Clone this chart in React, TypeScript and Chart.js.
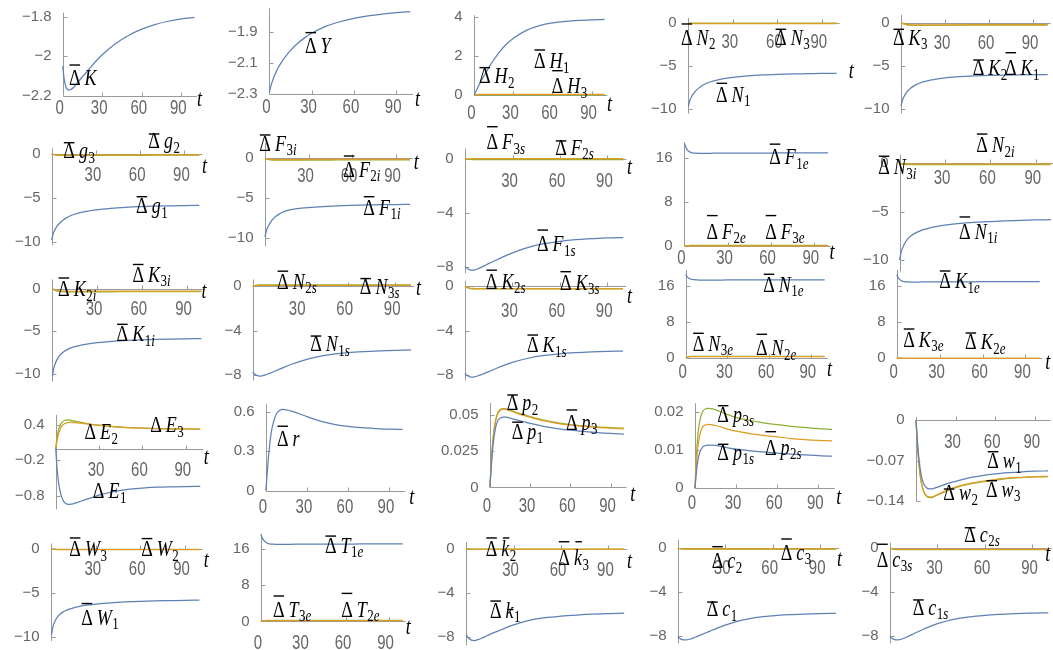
import React, { useEffect, useRef } from "react";
import { Chart, registerables } from "chart.js";

Chart.register(...registerables);

// ---------------- colours & fonts ----------------
const BLUE = "#5E81B5";
const ORANGE = "#E19C24";
const GREEN = "#8FB032";
const AXIS = "#9a9a9a";
const TICK_TXT = "#666666";
const TICK_FONT = '15px "Liberation Sans", Arial, sans-serif';
const LBL_FONT = '18px "Liberation Serif", "Times New Roman", serif';
const LBL_FONT_IT = 'italic 18px "Liberation Serif", "Times New Roman", serif';
const SUB_FONT = '13px "Liberation Serif", "Times New Roman", serif';
const SUB_FONT_IT = 'italic 13px "Liberation Serif", "Times New Roman", serif';
const LBL_VS = 1.25;
const XLBL_VS = 1.3;

// ---------------- data ----------------
const T = [0, 1, 2, 3, 4, 5, 6, 8, 10, 12, 15, 20, 25, 30, 40, 50, 60, 70, 80, 90, 100];
const X_TICKS = [0, 30, 60, 90];

// row 1
const K_BAR = [-2.05, -2.11, -2.145, -2.163, -2.17, -2.172, -2.17, -2.16, -2.145, -2.128, -2.104, -2.065, -2.027, -1.993, -1.937, -1.895, -1.863, -1.84, -1.823, -1.811, -1.803];
const Y_BAR = [-2.285, -2.25, -2.22, -2.195, -2.172, -2.152, -2.134, -2.102, -2.074, -2.05, -2.017, -1.972, -1.936, -1.906, -1.862, -1.832, -1.81, -1.794, -1.782, -1.773, -1.766];
const H1 = [0, 0.15, 0.29, 0.43, 0.56, 0.69, 0.81, 1.05, 1.27, 1.5, 1.8, 2.25, 2.62, 2.9, 3.3, 3.54, 3.68, 3.76, 3.81, 3.84, 3.86];
const H2 = [0, 0.01, 0.02, 0.025, 0.03, 0.03, 0.03, 0.03, 0.03, 0.03, 0.03, 0.03, 0.03, 0.03, 0.03, 0.03, 0.03, 0.03, 0.03, 0.03, 0.03];
const H3 = [0, 0, 0.01, 0.01, 0.01, 0.01, 0.01, 0.01, 0.01, 0.01, 0.01, 0.01, 0.01, 0.01, 0.01, 0.01, 0.01, 0.01, 0.01, 0.01, 0.01];
const N1 = [-9.7, -9.0, -8.6, -8.3, -8.05, -7.85, -7.68, -7.4, -7.18, -7.0, -6.8, -6.57, -6.41, -6.29, -6.12, -6.01, -5.94, -5.89, -5.86, -5.83, -5.81];
const N2 = [0, -0.02, -0.03, -0.04, -0.04, -0.05, -0.05, -0.05, -0.05, -0.05, -0.05, -0.05, -0.05, -0.05, -0.05, -0.05, -0.05, -0.05, -0.05, -0.05, -0.05];
const N3 = [0, 0.01, 0.02, 0.02, 0.02, 0.02, 0.02, 0.02, 0.02, 0.02, 0.02, 0.02, 0.02, 0.02, 0.02, 0.02, 0.02, 0.02, 0.02, 0.02, 0.02];
const K1 = [-9.6, -8.95, -8.55, -8.25, -8.0, -7.8, -7.64, -7.38, -7.18, -7.02, -6.83, -6.62, -6.48, -6.38, -6.24, -6.15, -6.09, -6.05, -6.02, -6.0, -5.99];
const K2 = [0, -0.06, -0.12, -0.16, -0.19, -0.21, -0.23, -0.25, -0.26, -0.26, -0.26, -0.25, -0.25, -0.24, -0.24, -0.23, -0.23, -0.22, -0.22, -0.22, -0.22];
const K3 = [0, -0.08, -0.15, -0.2, -0.24, -0.27, -0.29, -0.31, -0.32, -0.32, -0.32, -0.31, -0.3, -0.3, -0.29, -0.28, -0.28, -0.27, -0.27, -0.27, -0.27];

// row 2
const G1 = [-9.8, -9.1, -8.7, -8.4, -8.15, -7.95, -7.78, -7.5, -7.28, -7.1, -6.9, -6.66, -6.5, -6.37, -6.2, -6.08, -6.0, -5.95, -5.91, -5.88, -5.86];
const G2 = [0, -0.04, -0.07, -0.09, -0.1, -0.11, -0.12, -0.12, -0.12, -0.12, -0.12, -0.12, -0.11, -0.11, -0.11, -0.1, -0.1, -0.1, -0.1, -0.1, -0.1];
const G3 = [0, -0.05, -0.09, -0.12, -0.14, -0.15, -0.16, -0.17, -0.17, -0.17, -0.17, -0.16, -0.16, -0.16, -0.15, -0.15, -0.15, -0.14, -0.14, -0.14, -0.14];
const F1I = [-9.9, -9.1, -8.65, -8.3, -8.0, -7.76, -7.56, -7.25, -7.0, -6.8, -6.6, -6.4, -6.28, -6.2, -6.08, -5.99, -5.93, -5.88, -5.85, -5.82, -5.8];
const F2I = [0, -0.05, -0.09, -0.12, -0.14, -0.15, -0.16, -0.17, -0.17, -0.17, -0.17, -0.16, -0.16, -0.15, -0.15, -0.15, -0.14, -0.14, -0.14, -0.14, -0.14];
const F3I = [0, -0.07, -0.13, -0.17, -0.2, -0.22, -0.23, -0.24, -0.24, -0.24, -0.24, -0.23, -0.23, -0.22, -0.22, -0.21, -0.21, -0.21, -0.2, -0.2, -0.2];
const F1S = [-8.0, -8.12, -8.2, -8.25, -8.27, -8.27, -8.25, -8.17, -8.07, -7.95, -7.77, -7.5, -7.23, -6.98, -6.57, -6.3, -6.12, -6.0, -5.93, -5.87, -5.84];
const F2S = [0, 0.01, 0.02, 0.02, 0.03, 0.03, 0.03, 0.03, 0.03, 0.03, 0.03, 0.03, 0.03, 0.03, 0.03, 0.03, 0.03, 0.03, 0.03, 0.03, 0.03];
const F3S = [0, -0.01, -0.02, -0.02, -0.03, -0.03, -0.03, -0.03, -0.03, -0.03, -0.03, -0.03, -0.03, -0.03, -0.03, -0.03, -0.03, -0.03, -0.03, -0.03, -0.03];
const F1E = [18.7, 18.0, 17.55, 17.3, 17.12, 17.02, 16.96, 16.92, 16.9, 16.9, 16.9, 16.92, 16.93, 16.94, 16.95, 16.96, 16.96, 16.97, 16.97, 16.97, 16.97];
const F2E = [0, 0.05, 0.08, 0.1, 0.1, 0.1, 0.1, 0.1, 0.1, 0.1, 0.1, 0.1, 0.1, 0.1, 0.1, 0.1, 0.1, 0.1, 0.1, 0.1, 0.1];
const F3E = [0, 0.08, 0.12, 0.14, 0.15, 0.15, 0.15, 0.15, 0.15, 0.15, 0.15, 0.15, 0.15, 0.15, 0.15, 0.15, 0.15, 0.15, 0.15, 0.15, 0.15];
const N1I = [-10.0, -9.2, -8.75, -8.4, -8.12, -7.9, -7.72, -7.45, -7.25, -7.1, -6.9, -6.68, -6.52, -6.4, -6.22, -6.11, -6.03, -5.96, -5.91, -5.87, -5.84];
const N2I = [0, -0.04, -0.07, -0.09, -0.1, -0.11, -0.11, -0.11, -0.11, -0.11, -0.11, -0.11, -0.11, -0.11, -0.11, -0.11, -0.11, -0.11, -0.11, -0.11, -0.11];
const N3I = [0, -0.06, -0.1, -0.13, -0.15, -0.16, -0.16, -0.16, -0.16, -0.16, -0.16, -0.16, -0.16, -0.16, -0.16, -0.16, -0.16, -0.16, -0.16, -0.16, -0.16];

// row 3
const K1I = [-10.3, -9.3, -8.75, -8.35, -8.05, -7.82, -7.63, -7.35, -7.15, -6.98, -6.8, -6.58, -6.43, -6.32, -6.17, -6.07, -6.0, -5.95, -5.91, -5.88, -5.85];
const K2I = [0, -0.08, -0.14, -0.19, -0.22, -0.25, -0.27, -0.28, -0.29, -0.29, -0.29, -0.29, -0.28, -0.28, -0.28, -0.27, -0.27, -0.27, -0.27, -0.27, -0.27];
const K3I = [0, -0.1, -0.18, -0.24, -0.28, -0.31, -0.33, -0.35, -0.36, -0.36, -0.36, -0.36, -0.35, -0.35, -0.35, -0.34, -0.34, -0.34, -0.34, -0.34, -0.34];
const N1S = [-7.75, -7.9, -8.0, -8.07, -8.1, -8.1, -8.08, -8.0, -7.9, -7.78, -7.6, -7.3, -7.02, -6.78, -6.4, -6.15, -6.0, -5.9, -5.83, -5.78, -5.75];
const N2S = [0, 0.03, 0.05, 0.06, 0.07, 0.07, 0.07, 0.07, 0.07, 0.07, 0.07, 0.07, 0.07, 0.07, 0.07, 0.07, 0.07, 0.07, 0.07, 0.07, 0.07];
const N3S = [0, 0.04, 0.07, 0.09, 0.1, 0.1, 0.1, 0.1, 0.1, 0.1, 0.1, 0.1, 0.1, 0.1, 0.1, 0.1, 0.1, 0.1, 0.1, 0.1, 0.1];
const K1S = [-7.85, -8.0, -8.1, -8.17, -8.2, -8.2, -8.18, -8.1, -8.0, -7.88, -7.7, -7.4, -7.12, -6.88, -6.5, -6.25, -6.1, -6.0, -5.93, -5.88, -5.85];
const K2S = [0, -0.08, -0.14, -0.18, -0.2, -0.21, -0.22, -0.22, -0.22, -0.22, -0.22, -0.22, -0.22, -0.22, -0.22, -0.22, -0.22, -0.22, -0.22, -0.22, -0.22];
const K3S = [0, -0.1, -0.17, -0.21, -0.24, -0.25, -0.26, -0.26, -0.26, -0.26, -0.26, -0.26, -0.26, -0.26, -0.26, -0.26, -0.26, -0.26, -0.26, -0.26, -0.26];
const N1E = [18.5, 18.0, 17.7, 17.55, 17.45, 17.38, 17.33, 17.28, 17.25, 17.24, 17.24, 17.25, 17.26, 17.27, 17.28, 17.29, 17.3, 17.3, 17.3, 17.3, 17.3];
const N2E = [0, 0.12, 0.18, 0.22, 0.24, 0.25, 0.25, 0.25, 0.25, 0.25, 0.25, 0.25, 0.25, 0.25, 0.25, 0.25, 0.25, 0.25, 0.25, 0.25, 0.25];
const N3E = [0, 0.15, 0.22, 0.26, 0.28, 0.3, 0.3, 0.3, 0.3, 0.3, 0.3, 0.3, 0.3, 0.3, 0.3, 0.3, 0.3, 0.3, 0.3, 0.3, 0.3];
const K1E = [18.4, 17.8, 17.4, 17.15, 17.0, 16.92, 16.87, 16.83, 16.82, 16.82, 16.82, 16.83, 16.84, 16.85, 16.86, 16.87, 16.88, 16.88, 16.89, 16.89, 16.9];
const K2E = [0, -0.06, -0.1, -0.12, -0.13, -0.14, -0.14, -0.14, -0.14, -0.14, -0.14, -0.14, -0.14, -0.14, -0.14, -0.14, -0.14, -0.14, -0.14, -0.14, -0.14];
const K3E = [0, -0.08, -0.12, -0.15, -0.16, -0.17, -0.17, -0.17, -0.17, -0.17, -0.17, -0.17, -0.17, -0.17, -0.17, -0.17, -0.17, -0.17, -0.17, -0.17, -0.17];

// row 4
const E1 = [0, -0.35, -0.58, -0.72, -0.81, -0.87, -0.91, -0.94, -0.945, -0.935, -0.91, -0.87, -0.83, -0.79, -0.73, -0.69, -0.67, -0.655, -0.648, -0.643, -0.64];
const E2 = [0, 0.14, 0.25, 0.32, 0.37, 0.4, 0.42, 0.44, 0.445, 0.44, 0.435, 0.42, 0.405, 0.39, 0.37, 0.355, 0.345, 0.338, 0.334, 0.331, 0.33];
const E3 = [0, 0.2, 0.32, 0.39, 0.43, 0.46, 0.475, 0.485, 0.48, 0.47, 0.455, 0.43, 0.41, 0.395, 0.37, 0.355, 0.345, 0.338, 0.334, 0.331, 0.33];
const R_BAR = [0, 0.14, 0.27, 0.37, 0.45, 0.5, 0.54, 0.59, 0.612, 0.62, 0.617, 0.603, 0.585, 0.565, 0.53, 0.505, 0.49, 0.48, 0.474, 0.47, 0.467];
const P1 = [0, 0.014, 0.026, 0.034, 0.04, 0.0437, 0.046, 0.0478, 0.0484, 0.0483, 0.0477, 0.0464, 0.0452, 0.0441, 0.042, 0.0405, 0.0394, 0.0385, 0.0377, 0.0371, 0.0367];
const P2 = [0, 0.016, 0.029, 0.038, 0.0443, 0.0483, 0.051, 0.0533, 0.0538, 0.0536, 0.0528, 0.0511, 0.0496, 0.0483, 0.0459, 0.0441, 0.0428, 0.0419, 0.0412, 0.0407, 0.0403];
const P3 = [0, 0.017, 0.03, 0.039, 0.045, 0.049, 0.0515, 0.0537, 0.0542, 0.054, 0.0532, 0.0515, 0.05, 0.0487, 0.0463, 0.0445, 0.0432, 0.0423, 0.0416, 0.0411, 0.0407];
const P1S = [0, 0.0042, 0.0071, 0.0088, 0.0099, 0.0105, 0.0109, 0.0112, 0.0113, 0.0113, 0.0112, 0.0109, 0.0105, 0.0102, 0.0098, 0.0095, 0.0092, 0.0089, 0.0087, 0.0085, 0.0084];
const P2S = [0, 0.0062, 0.0105, 0.013, 0.0146, 0.0156, 0.0162, 0.0166, 0.0167, 0.0166, 0.0164, 0.0159, 0.0153, 0.0149, 0.0143, 0.0138, 0.0134, 0.013, 0.0127, 0.0125, 0.0124];
const P3S = [0, 0.008, 0.0135, 0.0165, 0.0184, 0.0196, 0.0203, 0.0208, 0.0209, 0.0208, 0.0205, 0.0198, 0.0191, 0.0185, 0.0177, 0.0171, 0.0166, 0.0162, 0.0159, 0.0156, 0.0154];
const W1S = [0, -0.035, -0.062, -0.082, -0.096, -0.105, -0.111, -0.117, -0.119, -0.119, -0.117, -0.113, -0.109, -0.106, -0.1, -0.096, -0.093, -0.091, -0.0895, -0.0885, -0.088];
const W2S = [0, -0.039, -0.069, -0.092, -0.107, -0.117, -0.124, -0.131, -0.133, -0.133, -0.13, -0.125, -0.12, -0.116, -0.11, -0.106, -0.103, -0.1, -0.099, -0.098, -0.0975];
const W3S = [0, -0.04, -0.07, -0.093, -0.108, -0.118, -0.125, -0.132, -0.134, -0.134, -0.131, -0.126, -0.121, -0.117, -0.111, -0.107, -0.104, -0.101, -0.0995, -0.0985, -0.098];

// row 5
const W1 = [-9.8, -8.9, -8.4, -8.05, -7.78, -7.58, -7.42, -7.18, -7.02, -6.88, -6.72, -6.53, -6.4, -6.3, -6.15, -6.05, -5.98, -5.93, -5.9, -5.87, -5.85];
const W2 = [0, -0.03, -0.06, -0.08, -0.09, -0.1, -0.1, -0.1, -0.1, -0.1, -0.1, -0.1, -0.1, -0.1, -0.1, -0.1, -0.1, -0.1, -0.1, -0.1, -0.1];
const W3 = [0, -0.02, -0.04, -0.05, -0.06, -0.07, -0.07, -0.07, -0.07, -0.07, -0.07, -0.07, -0.07, -0.07, -0.07, -0.07, -0.07, -0.07, -0.07, -0.07, -0.07];
const T1E = [19.1, 18.4, 17.9, 17.55, 17.32, 17.18, 17.1, 17.02, 17.0, 16.99, 16.99, 17.0, 17.01, 17.02, 17.03, 17.04, 17.05, 17.06, 17.07, 17.08, 17.08];
const T2E = [0, 0.08, 0.12, 0.14, 0.15, 0.15, 0.15, 0.15, 0.15, 0.15, 0.15, 0.15, 0.15, 0.15, 0.15, 0.15, 0.15, 0.15, 0.15, 0.15, 0.15];
const T3E = [0, 0.1, 0.15, 0.18, 0.2, 0.2, 0.2, 0.2, 0.2, 0.2, 0.2, 0.2, 0.2, 0.2, 0.2, 0.2, 0.2, 0.2, 0.2, 0.2, 0.2];
const KK1 = [-7.85, -8.05, -8.2, -8.3, -8.35, -8.36, -8.34, -8.25, -8.13, -8.0, -7.8, -7.5, -7.2, -6.94, -6.52, -6.28, -6.14, -6.04, -5.96, -5.91, -5.87];
const KK2 = [0, -0.02, -0.03, -0.04, -0.05, -0.05, -0.05, -0.05, -0.05, -0.05, -0.05, -0.05, -0.05, -0.05, -0.05, -0.05, -0.05, -0.05, -0.05, -0.05, -0.05];
const KK3 = [0, -0.01, -0.02, -0.02, -0.03, -0.03, -0.03, -0.03, -0.03, -0.03, -0.03, -0.03, -0.03, -0.03, -0.03, -0.03, -0.03, -0.03, -0.03, -0.03, -0.03];
const C1 = [-8.08, -8.22, -8.31, -8.36, -8.39, -8.39, -8.37, -8.3, -8.2, -8.08, -7.9, -7.6, -7.3, -7.03, -6.6, -6.33, -6.18, -6.08, -6.02, -5.98, -5.95];
const C2 = [0, -0.02, -0.04, -0.05, -0.06, -0.06, -0.06, -0.06, -0.06, -0.06, -0.06, -0.06, -0.06, -0.06, -0.06, -0.06, -0.06, -0.06, -0.06, -0.06, -0.06];
const C3 = [0, -0.03, -0.05, -0.07, -0.08, -0.08, -0.08, -0.08, -0.08, -0.08, -0.08, -0.08, -0.08, -0.08, -0.08, -0.08, -0.08, -0.08, -0.08, -0.08, -0.08];
const C1S = [-8.08, -8.22, -8.31, -8.36, -8.39, -8.39, -8.36, -8.28, -8.16, -8.02, -7.82, -7.48, -7.17, -6.9, -6.5, -6.27, -6.13, -6.04, -5.97, -5.93, -5.9];
const C2S = [0, -0.03, -0.06, -0.08, -0.09, -0.1, -0.1, -0.1, -0.1, -0.1, -0.1, -0.1, -0.1, -0.1, -0.1, -0.1, -0.1, -0.1, -0.1, -0.1, -0.1];
const C3S = [0, -0.04, -0.08, -0.1, -0.12, -0.13, -0.13, -0.13, -0.13, -0.13, -0.13, -0.13, -0.13, -0.13, -0.13, -0.13, -0.13, -0.13, -0.13, -0.13, -0.13];

// y tick values
const YT_K = [-2.2, -2, -1.8];
const YT_Y = [-2.3, -2.1, -1.9];
const YT_H = [0, 2, 4];
const YT_10 = [0, -5, -10];
const YT_8 = [0, -4, -8];
const YT_16 = [0, 8, 16];
const YT_E = [0.4, -0.2, -0.8];
const YT_R = [0, 0.3, 0.6];
const YT_P = [0, 0.025, 0.05];
const YT_PS = [0, 0.01, 0.02];
const YT_W = [0, -0.07, -0.14];

// ---------------- annotations (text labels, in data units) ----------------
type Lbl = { sym: string; sub: string; t: number; v: number; bar: number | null; kbar?: number };
const L = (sym: string, sub: string, t: number, v: number, bar: number | null, kbar?: number): Lbl => ({ sym, sub, t, v, bar, kbar });

const PANELS = [
  { key: "A", yTicks: YT_K, series: [[K_BAR, BLUE]], labels: [L("K", "", 4.8, -2.146, -20)], tl: [102, -2.252] },
  { key: "B", yTicks: YT_Y, series: [[Y_BAR, BLUE]], labels: [L("Y", "", 25.3, -2.035, -20.6)], tl: [103.3, -2.375] },
  { key: "C", yTicks: YT_H, series: [[H1, BLUE], [H2, ORANGE], [H3, GREEN]], labels: [L("H", "2", 3.6, 0.6, -15.6), L("H", "1", 45.8, 1.364, -18.3), L("H", "3", 59.4, 0.087, -22.6)], tl: [101.8, -0.82] },
  { key: "D", yTicks: YT_10, series: [[N1, BLUE], [N2, ORANGE], [N3, GREEN]], labels: [L("N", "2", -4.9, -2.52, -21), L("N", "3", 58.5, -2.52, -15.7), L("N", "1", 18.7, -9.12, -18.4)], tl: [108.2, -6.33] },
  { key: "E", yTicks: YT_10, series: [[K1, BLUE], [K2, ORANGE], [K3, GREEN]], labels: [L("K", "3", -5.5, -2.575, -15.7), L("K", "2", 48.9, -6.04, -15), L("K", "1", 70.9, -6.04, -22.3)], tl: null },

  { key: "F", yTicks: YT_10, series: [[G1, BLUE], [G2, ORANGE], [G3, GREEN]], labels: [L("g", "3", 7.9, -0.49, -15.6), L("g", "2", 65.5, 0.65, -14.3), L("g", "1", 57.2, -6.76, -16.6)], tl: [101.9, -2.13] },
  { key: "G", yTicks: YT_10, series: [[F1I, BLUE], [F2I, ORANGE], [F3I, GREEN]], labels: [L("F", "3i", -3.9, 0.96, -15.7), L("F", "2i", 54, -2.32, -20.7), L("F", "1i", 67.8, -7.14, -18.3)], tl: [102.6, -1.39] },
  { key: "H", yTicks: YT_8, series: [[F1S, BLUE], [F2S, ORANGE], [F3S, GREEN]], labels: [L("F", "3s", 13.5, 0.72, -22.7), L("F", "2s", 57, 0.31, -14), L("F", "1s", 45.4, -6.85, -21)], tl: [102.4, -1.14] },
  { key: "I", yTicks: YT_16, series: [[F1E, BLUE], [F2E, ORANGE], [F3E, GREEN]], labels: [L("F", "1e", 59, 14.9, -20.2), L("F", "2e", 15.4, 1.33, -23.4), L("F", "3e", 56.2, 1.33, -23.4)], tl: [101, -2.33] },
  { key: "J", yTicks: YT_10, series: [[N1I, BLUE], [N2I, ORANGE], [N3I, GREEN]], labels: [L("N", "2i", 50.7, 1.12, -18.2), L("N", "3i", -14.1, -1.17, -18.2), L("N", "1i", 39.3, -7.83, -22)], tl: null },

  { key: "K", yTicks: YT_10, series: [[K1I, BLUE], [K2I, ORANGE], [K3I, GREEN]], labels: [L("K", "2i", 3.8, -0.87, -18.2), L("K", "3i", 53.7, 0.8, -17.5), L("K", "1i", 43.1, -6.15, -16.8)], tl: [100, -1.1] },
  { key: "L", yTicks: YT_8, series: [[N1S, BLUE], [N2S, ORANGE], [N3S, GREEN]], labels: [L("N", "2s", 15.4, -0.24, -17.6), L("N", "3s", 67.7, -0.7, -15.3), L("N", "1s", 36.3, -5.87, -15.2)], tl: [103.1, -0.78] },
  { key: "M", yTicks: YT_8, series: [[K1S, BLUE], [K2S, ORANGE], [K3S, GREEN]], labels: [L("K", "2s", 13.2, -0.24, -18.6), L("K", "3s", 60.1, -0.35, -18.3), L("K", "1s", 39.2, -5.94, -17)], tl: [102.5, -1.5] },
  { key: "N", yTicks: YT_16, series: [[N1E, BLUE], [N2E, ORANGE], [N3E, GREEN]], labels: [L("N", "3e", 5, 1.49, -17.7), L("N", "2e", 50.6, 0.6, -20.7), L("N", "1e", 55.8, 14.67, -17.4)], tl: [101.7, -4.07] },
  { key: "O", yTicks: YT_16, series: [[K1E, BLUE], [K2E, ORANGE], [K3E, GREEN]], labels: [L("K", "3e", 4.6, 2.44, -17.7), L("K", "2e", 47.8, 1.93, -16), L("K", "1e", 29.8, 15.42, -17.3)], tl: [103.9, -2.58] },

  { key: "P", yTicks: YT_E, series: [[E1, BLUE], [E2, ORANGE], [E3, GREEN]], labels: [L("E", "2", 19.9, 0.16, null), L("E", "3", 65.4, 0.274, null), L("E", "1", 25.7, -0.84, null)], tl: [102.4, -0.27] },
  { key: "Q", yTicks: YT_R, series: [[R_BAR, BLUE]], labels: [L("r", "", 8.1, 0.342, -19.6)], tl: [104.8, -0.103] },
  { key: "R", yTicks: YT_P, series: [[P1, BLUE], [P2, ORANGE], [P3, GREEN]], labels: [L("p", "2", 12.6, 0.0531, -15.2), L("p", "1", 16.3, 0.0333, -16.8), L("p", "3", 56.8, 0.0395, -20)], tl: [104.8, -0.0094] },
  { key: "S", yTicks: YT_PS, series: [[P1S, BLUE], [P2S, ORANGE], [P3S, GREEN]], labels: [L("p", "3s", 16.3, 0.01739, -16), L("p", "2s", 51.1, 0.0087, -23.3), L("p", "1s", 16.3, 0.00739, -15.7)], tl: [103.1, -0.00418] },
  { key: "T", yTicks: YT_W, series: [[W1S, BLUE], [W2S, ORANGE], [W3S, GREEN]], labels: [L("w", "1", 54, -0.0835, -16.6), L("w", "2", 20.7, -0.1383, -11), L("w", "3", 53, -0.1326, -16)], tl: null },

  { key: "U", yTicks: YT_10, series: [[W1, BLUE], [W2, ORANGE], [W3, GREEN]], labels: [L("W", "3", 12.1, -0.84, -18.2), L("W", "2", 60.7, -0.84, -17.6), L("W", "1", 20.1, -8.66, -21.3)], tl: [103, -2.03] },
  { key: "V", yTicks: YT_16, series: [[T1E, BLUE], [T2E, ORANGE], [T3E, GREEN]], labels: [L("T", "3e", 8.6, 0.97, -21), L("T", "2e", 56.6, 0.97, -23.6), L("T", "1e", 45.2, 15.1, -16.8)], tl: [102.1, -2.82] },
  { key: "W", yTicks: YT_8, series: [[KK1, BLUE], [KK2, ORANGE], [KK3, GREEN]], labels: [L("k", "2", 12.4, -0.67, -18.2, -18.2), L("k", "3", 58.3, -1.48, -23.3, -23.3), L("k", "1", 15, -6.3, -16.9, -8.4)], tl: [101.8, -1.72] },
  { key: "X", yTicks: YT_8, series: [[C1, BLUE], [C2, ORANGE], [C3, GREEN]], labels: [L("c", "2", 21.5, -1.83, -21.6), L("c", "3", 65.1, -1.07, -21), L("c", "1", 18.3, -6.2, -14)], tl: [100.6, -1.62] },
  { key: "Y", yTicks: YT_8, series: [[C1S, BLUE], [C2S, ORANGE], [C3S, GREEN]], labels: [L("c", "3s", -8.4, -1.68, -22.4), L("c", "2s", 46.9, 0.6, -14), L("c", "1s", 14.3, -6.1, -15)], tl: [98.1, -1.16] },
];

// ---------------- layout (pixel placement of each panel) ----------------
// ax0 / ax100: page x of t=0 and t=100; (v1,p1),(v2,p2): two y values and their page y; yLo/yHi: y-axis extent
const LAYOUT: Record<string, number[]> = {
  //      ax0    ax100   v1     p1     v2     p2    yLo     yHi    xLabDy
  A: [62.7, 194.4, -1.8, 16.7, -2.2, 95.7, -2.2, -1.78, 12],
  B: [269.3, 410.3, -1.9, 32.3, -2.3, 94.3, -2.3, -1.745, 13],
  C: [474.3, 604.6, 4, 16.7, 0, 95, 0, 4.07, 18],
  D: [688.3, 836.6, 0, 23.3, -10, 109.3, -10.5, 0.6, 19.5],
  E: [901, 1047.7, 0, 22.7, -10, 109.3, -10.5, 0.9, 20],
  F: [51.7, 199.2, 0, 154, -10, 241.7, -10.4, 0.65, 21],
  G: [265, 410, 0, 158.3, -10, 237.7, -11.1, 1.9, 18.4],
  H: [465.2, 623.2, 0, 159.1, -8, 266.5, -8.5, 0.8, 22.6],
  I: [684.4, 828.1, 16, 158.3, 0, 246.3, 0, 18.9, 12],
  J: [899.6, 1050.9, 0, 163.1, -10, 260, -11.2, 0.85, 15.3],
  K: [52.4, 201.4, 0, 288.8, -10, 373.9, -10.9, 1.1, 20],
  L: [252.7, 411, 0, 286.1, -8, 374.9, -8.5, 0.6, 23],
  M: [465, 623, 0, 286.1, -8, 374.9, -8.5, 0.5, 25],
  N: [685.7, 824.7, 16, 285.7, 0, 357.7, 0, 19.5, 14],
  O: [896.7, 1039.7, 16, 285.7, 0, 357.7, 0, 19.5, 14],
  P: [55.7, 200.3, 0.4, 424.9, -0.8, 495.8, -1.03, 0.57, 21],
  Q: [265.9, 402.6, 0.6, 412, 0, 490.7, 0, 0.66, 16],
  R: [489.9, 623.9, 0.05, 414.7, 0, 487.4, 0, 0.058, 19],
  S: [695, 832, 0.02, 411.7, 0, 488.3, 0, 0.0222, 15],
  T: [916, 1048, 0, 420, -0.14, 501, -0.141, 0.005, 21.7],
  U: [51.4, 199.4, 0, 548.8, -10, 636.6, -10.5, 0.6, 20],
  V: [260.8, 402.8, 16, 548.8, 0, 621.4, 0, 19.3, 22],
  W: [466.2, 624.2, 0, 548.8, -8, 636.6, -8.8, 0.6, 21],
  X: [677.7, 836, 0, 548.3, -8, 635.7, -8.7, 0.76, 20],
  Y: [890, 1048.3, 0, 548.3, -8, 635.7, -8.7, 0.5, 20],
};

const fmt = (v: number) => (v < 0 ? "\u2212" + String(-v) : String(v));

function drawScaled(ctx: CanvasRenderingContext2D, s: string, x: number, y: number, font: string, vs: number) {
  ctx.save();
  ctx.font = font;
  const w = ctx.measureText(s).width;
  ctx.translate(x, y);
  ctx.scale(1, vs);
  ctx.fillText(s, 0, 0);
  ctx.restore();
  return w;
}

function makePlugin(p: any, lay: number[]) {
  const [, , , , , , yLo, yHi, xLabDy] = lay;
  return {
    id: "mmaAxes" + p.key,
    beforeDatasetsDraw(chart: any) {
      const ctx: CanvasRenderingContext2D = chart.ctx;
      const xs = chart.scales.x;
      const ys = chart.scales.y;
      const axisV = yLo <= 0 && yHi >= 0 ? 0 : yLo;
      const ay = Math.round(ys.getPixelForValue(axisV)) + 0.5;
      const ax = Math.round(xs.getPixelForValue(0)) + 0.5;
      ctx.save();
      ctx.strokeStyle = AXIS;
      ctx.lineWidth = 1;
      ctx.beginPath();
      ctx.moveTo(ax, ay);
      ctx.lineTo(xs.getPixelForValue(102), ay);
      ctx.moveTo(ax, ys.getPixelForValue(yLo));
      ctx.lineTo(ax, ys.getPixelForValue(yHi));
      for (const v of X_TICKS) {
        if (v <= 0) continue;
        const px = Math.round(xs.getPixelForValue(v)) + 0.5;
        ctx.moveTo(px, ay);
        ctx.lineTo(px, ay - 4);
      }
      for (const v of p.yTicks) {
        const py = Math.round(ys.getPixelForValue(v)) + 0.5;
        ctx.moveTo(ax, py);
        ctx.lineTo(ax + 4, py);
      }
      ctx.stroke();
      ctx.fillStyle = TICK_TXT;
      ctx.textAlign = "center";
      ctx.textBaseline = "middle";
      for (const v of X_TICKS) {
        if (v === 0 && axisV !== yLo) continue;
        drawScaled(ctx, fmt(v), xs.getPixelForValue(v) - 3, ay + xLabDy, TICK_FONT, XLBL_VS);
      }
      ctx.textAlign = "right";
      ctx.font = TICK_FONT;
      for (const v of p.yTicks) {
        ctx.fillText(fmt(v), ax - 12, ys.getPixelForValue(v));
      }
      ctx.restore();
    },
    afterDatasetsDraw(chart: any) {
      const ctx: CanvasRenderingContext2D = chart.ctx;
      const xs = chart.scales.x;
      const ys = chart.scales.y;
      ctx.save();
      ctx.fillStyle = "#000";
      ctx.textAlign = "left";
      ctx.textBaseline = "alphabetic";
      for (const lb of p.labels as Lbl[]) {
        const x = xs.getPixelForValue(lb.t);
        const y = ys.getPixelForValue(lb.v);
        const dW = drawScaled(ctx, "\u0394", x, y, LBL_FONT, LBL_VS);
        if (lb.bar != null) ctx.fillRect(x + 0.5, y + lb.bar - 0.7, dW - 1, 1.4);
        let cx = x + dW + 4;
        const sW = drawScaled(ctx, lb.sym, cx, y, LBL_FONT_IT, LBL_VS);
        if (lb.kbar != null) ctx.fillRect(cx + 1.5, y + lb.kbar - 0.7, sW - 1.5, 1.4);
        cx += sW + 0.5;
        for (const ch of lb.sub) {
          const f = /\d/.test(ch) ? SUB_FONT : SUB_FONT_IT;
          cx += drawScaled(ctx, ch, cx, y + 4.5, f, LBL_VS);
        }
      }
      if (p.tl) {
        drawScaled(ctx, "t", xs.getPixelForValue(p.tl[0]), ys.getPixelForValue(p.tl[1]), LBL_FONT_IT, LBL_VS);
      }
      ctx.restore();
    },
  };
}

function geometry(lay: number[]) {
  const [ax0, ax100, v1, p1, v2, p2, yLo, yHi] = lay;
  const k = (p2 - p1) / (v1 - v2);
  const topPx = p1 - (yHi - v1) * k;
  const botPx = p1 + (v1 - yLo) * k;
  const left = Math.floor(ax0 - 66);
  const top = Math.floor(topPx - 32);
  const right = Math.ceil(ax100 + 44);
  const bottom = Math.ceil(botPx + 42);
  return {
    left,
    top,
    w: right - left,
    h: bottom - top,
    padL: ax0 - left,
    padR: right - ax100,
    padT: topPx - top,
    padB: bottom - botPx,
  };
}

function Panel({ p }: { p: any }) {
  const ref = useRef<HTMLCanvasElement | null>(null);
  const lay = LAYOUT[p.key];
  const g = geometry(lay);
  useEffect(() => {
    if (!ref.current) return;
    const chart = new Chart(ref.current, {
      type: "line",
      data: {
        datasets: p.series.map((s: any) => ({
          data: T.map((t, i) => ({ x: t, y: s[0][i] })),
          borderColor: s[1],
          backgroundColor: s[1],
          borderWidth: 1.25,
          pointRadius: 0,
          fill: false,
          cubicInterpolationMode: "monotone",
          clip: false,
        })),
      },
      options: {
        responsive: false,
        animation: false,
        devicePixelRatio: 1,
        events: [],
        layout: { padding: { left: g.padL, right: g.padR, top: g.padT, bottom: g.padB } },
        plugins: { legend: { display: false }, tooltip: { enabled: false }, title: { display: false } },
        scales: {
          x: { type: "linear", min: 0, max: 100, display: false },
          y: { type: "linear", min: lay[6], max: lay[7], display: false },
        },
      },
      plugins: [makePlugin(p, lay)],
    } as any);
    return () => chart.destroy();
  }, []);
  return (
    <canvas
      ref={ref}
      width={g.w}
      height={g.h}
      style={{ position: "absolute", left: g.left, top: g.top, width: g.w, height: g.h }}
    />
  );
}

export default function App() {
  return (
    <div
      style={{
        position: "fixed",
        left: 0,
        top: 0,
        width: 1053,
        height: 650,
        overflow: "hidden",
        background: "#fff",
      }}
    >
      {PANELS.map((p) => (
        <Panel key={p.key} p={p} />
      ))}
    </div>
  );
}
